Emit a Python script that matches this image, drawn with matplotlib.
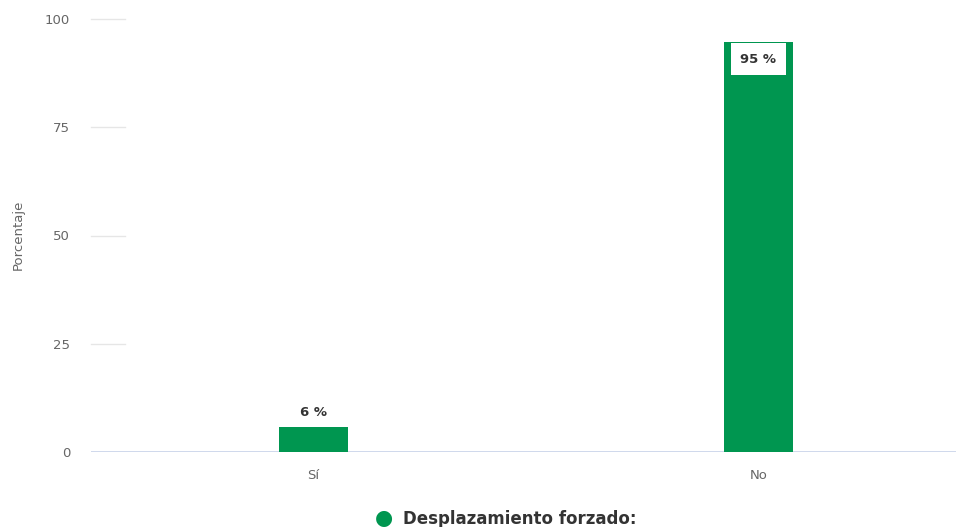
import matplotlib.pyplot as plt

# Data
categories = ["Sí", "No"]
values = [5.8, 94.6]
series_name = "Desplazamiento forzado:"
yticks = [0, 25, 50, 75, 100]

green = "#009650"
grey = "#666666"

plt.rcParams['font.family'] = ['DejaVu Sans']

fig = plt.figure(figsize=(9.56, 5.27), dpi=100)
# plot area runs a bit past the right edge, as in the original
ax = fig.add_axes([91 / 956, 75 / 527, 890 / 956, 433 / 527])

x = list(range(len(categories)))
bars = ax.bar(x, values, width=0.153, color=green, zorder=3)

ax.set_xlim(-0.5, 1.5)
ax.set_ylim(0, 100)

for s in ax.spines.values():
    s.set_visible(False)

# baseline
ax.axhline(0, color="#ccd6eb", lw=1.3, zorder=2)
# short grid stubs near the axis labels
for t in yticks[1:]:
    ax.plot([0, 34 / 890], [t, t], transform=ax.get_yaxis_transform(),
            color="#e6e6e6", lw=1, clip_on=False)

ax.set_yticks(yticks)
ax.set_xticks(x)
ax.set_xticklabels(categories)
ax.tick_params(axis="both", length=0, labelsize=9.5, labelcolor=grey)
ax.tick_params(axis="y", pad=15)
ax.tick_params(axis="x", pad=12)

fig.text(18 / 956, 1 - 235 / 527, "Porcentaje", color=grey, fontsize=9.5,
         rotation=90, ha="center", va="center")

# data labels
for xi, v in zip(x, values):
    lab = f"{v:.0f} %"
    if v > 50:
        ax.annotate(lab, (xi, v), xytext=(0, -12.2), textcoords="offset points",
                    ha="center", va="center", fontsize=9.5, fontweight="bold", color="#333333",
                    bbox=dict(boxstyle="square,pad=0.72", fc="white", ec="none"), zorder=4)
    else:
        ax.annotate(lab, (xi, v), xytext=(0, 6), textcoords="offset points",
                    ha="center", va="bottom", fontsize=9.5, fontweight="bold", color="#333333")

# legend at the bottom
fig.text(384 / 956, 1 - 518 / 527, "●", color=green, fontsize=15,
         ha="center", va="center")
fig.text(403 / 956, 1 - 519 / 527, series_name, color="#333333", fontsize=12,
         fontweight="bold", ha="left", va="center")

fig.savefig("out.png", dpi=100)
